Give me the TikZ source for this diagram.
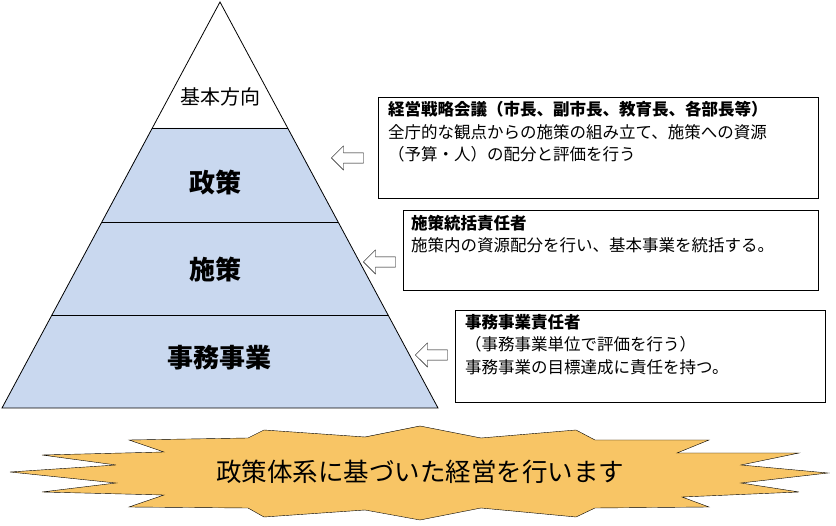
\documentclass[tikz,border=0pt]{standalone}
\usepackage{fontspec}
\setmainfont{Noto Sans CJK JP}
\usetikzlibrary{positioning,shapes.arrows}
\definecolor{tierblue}{HTML}{C9D8EF}
\definecolor{burst}{HTML}{F8C565}
\begin{document}
\begin{tikzpicture}[x=1pt,y=-1pt,
    tier/.style={font=\fontsize{26}{30}\selectfont\bfseries},
    note/.style={anchor=north west,align=left,inner sep=0pt,font=\fontsize{16.5}{22.5}\selectfont},
    pointer/.style={single arrow,draw,fill=white,shape border rotate=180,minimum height=32pt,
        minimum width=24pt,single arrow head extend=3pt,inner sep=2pt}]
    \useasboundingbox (0,0) rectangle (836,526);

    % The pyramid
    \fill[tierblue] (152,128) -- (2,408) -- (438,408) -- (288,128) -- cycle;
    \draw[thick] (220,2) -- (2,408) -- (438,408) -- cycle;
    \draw (152,128) -- (288,128);
    \draw (102,222) -- (338,222);
    \draw (52,315) -- (388,315);
    \node at (220,97) (base) {\fontsize{20}{24}\selectfont 基本方向};
    \node [tier] at (215,183) (policy) {政策};
    \node [tier] at (215,270) (measure) {施策};
    \node [tier] at (219,358) (project) {事務事業};

    % The notes
    \draw[thick] (378,97) rectangle (818,198);
    \node [note] at (388,101) (n1) {\textbf{経営戦略会議（市長、副市長、教育長、各部長等）}\\全庁的な観点からの施策の組み立て、施策への資源\\（予算・人）の配分と評価を行う};
    \draw[thick] (403,210) rectangle (818,290);
    \node [note] at (411,215) (n2) {\textbf{施策統括責任者}\\施策内の資源配分を行い、基本事業を統括する。};
    \draw[thick] (455,310) rectangle (825,402);
    \node [note] at (465,314) (n3) {\textbf{事務事業責任者}\\（事務事業単位で評価を行う）\\事務事業の目標達成に責任を持つ。};

    \node [pointer] at (350,158) (a1) {};
    \node [pointer] at (382,262) (a2) {};
    \node [pointer] at (434,355) (a3) {};

    % The banner
    \filldraw[fill=burst,draw=black] (10,472) -- (116,465) -- (42,455) -- (164,452) -- (129,440)
      -- (248,438) -- (264,430) -- (365,437) -- (420,426) -- (481,438) -- (576,430)
      -- (595,440) -- (709,440) -- (677,453) -- (799,453) -- (741,465) -- (828,473)
      -- (741,483) -- (799,492) -- (682,497) -- (709,507) -- (595,508) -- (576,517)
      -- (481,508) -- (420,520) -- (365,510) -- (264,517) -- (248,508) -- (129,507)
      -- (164,495) -- (42,492) -- (116,483) -- cycle;
    \node at (420,472) (motto) {\fontsize{25.5}{28}\selectfont 政策体系に基づいた経営を行います};
\end{tikzpicture}
\end{document}
